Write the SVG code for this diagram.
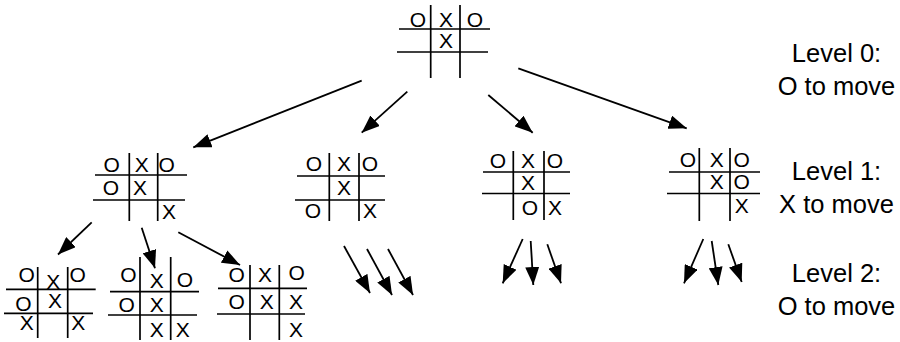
<svg xmlns="http://www.w3.org/2000/svg" width="900" height="342" viewBox="0 0 900 342">
<defs>
<style>
.g line{stroke:#000;stroke-width:1.7}
.g text{font-family:"Liberation Sans",Arial,Helvetica,sans-serif;font-size:21px;text-anchor:middle;fill:#000}
.lbl{font-family:"Liberation Sans",Arial,Helvetica,sans-serif;font-size:25.5px;text-anchor:middle;fill:#000}
.arr line{stroke:#000;stroke-width:1.8;marker-end:url(#ah)}
</style>
<marker id="ah" markerUnits="userSpaceOnUse" markerWidth="19" markerHeight="14" refX="18" refY="7" orient="auto">
<path d="M0,0 L18,7 L0,14 z" fill="#000"/>
</marker>
</defs>
<rect width="900" height="342" fill="#fff"/>

<g id="root" class="g">
<line x1="430.7" y1="5" x2="430.7" y2="78"/><line x1="460" y1="5" x2="460" y2="78"/>
<line x1="399" y1="29" x2="490" y2="29"/><line x1="397" y1="52" x2="488" y2="52"/>
<text x="418" y="27">O</text><text x="446" y="27">X</text><text x="475" y="27">O</text>
<text x="446" y="48">X</text>
</g>

<g id="l1a" class="g">
<line x1="129.3" y1="153" x2="129.3" y2="221"/><line x1="157.7" y1="153" x2="157.7" y2="221"/>
<line x1="95" y1="175" x2="187" y2="175"/><line x1="93" y1="200" x2="185" y2="200"/>
<text x="111.7" y="172">O</text><text x="141.7" y="172">X</text><text x="166.7" y="172">O</text>
<text x="111" y="195">O</text><text x="140" y="195">X</text>
<text x="169" y="219">X</text>
</g>

<g id="l1b" class="g">
<line x1="329.3" y1="153" x2="329.3" y2="221"/><line x1="359" y1="153" x2="359" y2="221"/>
<line x1="297" y1="176" x2="385" y2="176"/><line x1="295" y1="200" x2="385" y2="200"/>
<text x="314" y="171">O</text><text x="344" y="171">X</text><text x="370" y="171">O</text>
<text x="344" y="195">X</text>
<text x="313" y="218">O</text><text x="370" y="218">X</text>
</g>

<g id="l1c" class="g">
<line x1="513.3" y1="151" x2="513.3" y2="220"/><line x1="544" y1="151" x2="544" y2="220"/>
<line x1="483" y1="172" x2="570" y2="172"/><line x1="482" y1="193.5" x2="570" y2="193.5"/>
<text x="498" y="168">O</text><text x="528" y="168">X</text><text x="555" y="168">O</text>
<text x="528" y="190">X</text>
<text x="530" y="215">O</text><text x="555" y="215">X</text>
</g>

<g id="l1d" class="g">
<line x1="699.3" y1="148" x2="699.3" y2="221"/><line x1="730" y1="148" x2="730" y2="221"/>
<line x1="669" y1="172" x2="760" y2="172"/><line x1="667" y1="193.5" x2="760" y2="193.5"/>
<text x="688" y="167">O</text><text x="716.7" y="167">X</text><text x="741.7" y="167">O</text>
<text x="716.7" y="189">X</text><text x="741.7" y="189">O</text>
<text x="741.7" y="213">X</text>
</g>

<g id="l2a" class="g">
<line x1="37.7" y1="267" x2="37.7" y2="338"/><line x1="67.7" y1="267" x2="67.7" y2="338"/>
<line x1="6" y1="289.3" x2="95.7" y2="289.3"/><line x1="4" y1="313.3" x2="93" y2="313.3"/>
<text x="26.7" y="282">O</text><text x="53.3" y="289">X</text><text x="77.7" y="282">O</text>
<text x="23.3" y="311">O</text><text x="55" y="308">X</text>
<text x="26.7" y="330">X</text><text x="78.3" y="330">X</text>
</g>

<g id="l2b" class="g">
<line x1="140" y1="257" x2="140" y2="340"/><line x1="170.7" y1="257" x2="170.7" y2="340"/>
<line x1="110" y1="291.7" x2="199" y2="291.7"/><line x1="108" y1="315" x2="197" y2="315"/>
<text x="128.3" y="282">O</text><text x="156.7" y="288">X</text><text x="185" y="287">O</text>
<text x="126.7" y="312">O</text><text x="156.7" y="312">X</text>
<text x="156.7" y="337">X</text><text x="182.7" y="337">X</text>
</g>

<g id="l2c" class="g">
<line x1="250" y1="265" x2="250" y2="340"/><line x1="279.3" y1="265" x2="279.3" y2="340"/>
<line x1="218" y1="288.3" x2="307" y2="288.3"/><line x1="217" y1="314" x2="305" y2="314"/>
<text x="236.7" y="282">O</text><text x="265" y="282">X</text><text x="296.7" y="280">O</text>
<text x="236.7" y="309">O</text><text x="266.7" y="309">X</text><text x="296" y="309">X</text>
<text x="296" y="337">X</text>
</g>

<g id="connectors" class="arr">
<line x1="361.7" y1="80.7" x2="193.3" y2="147.3"/>
<line x1="407.3" y1="91.7" x2="361.7" y2="132.7"/>
<line x1="488.3" y1="95" x2="532.7" y2="132.7"/>
<line x1="518.3" y1="68.3" x2="686.7" y2="128.3"/>
<line x1="91.7" y1="222.3" x2="58" y2="254.5"/>
<line x1="141.7" y1="227.7" x2="155" y2="268.3"/>
<line x1="178.3" y1="232.3" x2="240" y2="265"/>
<line x1="344" y1="246" x2="370" y2="293"/>
<line x1="367" y1="249" x2="392" y2="295"/>
<line x1="388" y1="249" x2="413" y2="295"/>
<line x1="522.7" y1="239" x2="502.7" y2="283.3"/>
<line x1="530.7" y1="241" x2="533.3" y2="285"/>
<line x1="547.3" y1="244.3" x2="561" y2="283.3"/>
<line x1="703.3" y1="239" x2="684" y2="283.3"/>
<line x1="711.7" y1="241" x2="718.3" y2="285"/>
<line x1="728.3" y1="244.3" x2="741.7" y2="282"/>
</g>

<g id="labels">
<text class="lbl" x="836.5" y="62">Level 0:</text>
<text class="lbl" x="836.5" y="95">O to move</text>
<text class="lbl" x="836.5" y="180">Level 1:</text>
<text class="lbl" x="836.5" y="213">X to move</text>
<text class="lbl" x="836.5" y="281.5">Level 2:</text>
<text class="lbl" x="836.5" y="315">O to move</text>
</g>
</svg>
